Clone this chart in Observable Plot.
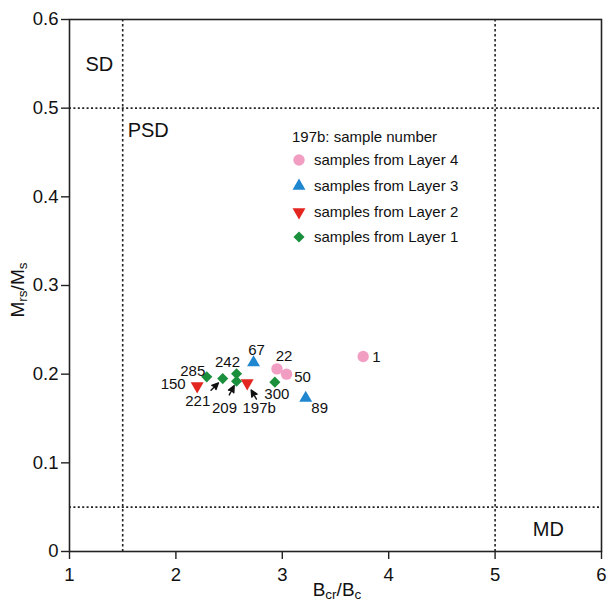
<!DOCTYPE html>
<html><head><meta charset="utf-8">
<script src="https://cdn.jsdelivr.net/npm/d3@7"></script>
<script src="https://cdn.jsdelivr.net/npm/@observablehq/plot@0.6"></script>
<style>body{margin:0;background:#fff}</style>
</head><body><div id="chart"></div>
<script>
// ---- data ----
const layers = ["Layer 4", "Layer 3", "Layer 2", "Layer 1"];
const layerColors = ["#f19ec2", "#1f86d0", "#e32620", "#1a8f3c"];
const sampleIds   = ["1", "22", "50", "67", "89", "150", "197b", "285", "221", "242", "209", "300"];
const sampleLayer = ["Layer 4","Layer 4","Layer 4","Layer 3","Layer 3","Layer 2","Layer 2","Layer 1","Layer 1","Layer 1","Layer 1","Layer 1"];
const bcrBc = [3.76, 2.95, 3.04, 2.73, 3.22, 2.20, 2.67, 2.29, 2.44, 2.57, 2.57, 2.93];
const mrsMs = [0.220, 0.206, 0.200, 0.213, 0.173, 0.1866, 0.190, 0.197, 0.195, 0.2005, 0.192, 0.191];
const xTicks = [1, 2, 3, 4, 5, 6];
const yTicks = [0, 0.1, 0.2, 0.3, 0.4, 0.5, 0.6];
const bcrBoundaries = [1.5, 5];
const mrsBoundaries = [0.5, 0.05];
const regionNames = ["SD", "PSD", "MD"];
const regionX = [1.28, 1.74, 5.5];
const regionY = [0.549, 0.475, 0.025];
const legendTitle = "197b: sample number";
const arrowedIds = ["221", "209", "197b"];

// ---- layout (styles / offsets, not data) ----
const labelOffset = { // pixel offsets of labels from their point
  "1": [9, 1, "start"], "22": [7, -13, "middle"], "50": [16, 3, "middle"], "67": [3, -12, "middle"],
  "89": [14, 10, "middle"], "150": [-24, -2, "middle"], "197b": [12, 25, "middle"], "285": [-14, -6, "middle"],
  "221": [-25, 23, "middle"], "242": [-9, -12, "middle"], "209": [-12, 27, "middle"], "300": [2, 12, "middle"]
};
const arrowStyle = { "221": [45, 6], "209": [28, 5], "197b": [-30, 8] }; // rotate, gap
const font = "'Liberation Sans', Arial, Helvetica, sans-serif";

const samples = sampleIds.map((id, i) => ({id, layer: sampleLayer[i], x: bcrBc[i], y: mrsMs[i]}));
const regions = regionNames.map((name, i) => ({name, x: regionX[i], y: regionY[i]}));

const triangleDown = {draw(ctx, size) {
  const y = -Math.sqrt(size / (Math.sqrt(3) * 3));
  ctx.moveTo(0, -y * 2); ctx.lineTo(-Math.sqrt(3) * y, y); ctx.lineTo(Math.sqrt(3) * y, y); ctx.closePath();
}};
const layerSymbol = {"Layer 4": "circle", "Layer 3": "triangle", "Layer 2": triangleDown, "Layer 1": "diamond2"};
const layerR = {"Layer 4": 5.7, "Layer 3": 4.8, "Layer 2": 4.8, "Layer 1": 5.0};

const arrowShape = gap => ({draw(ctx, l) {
  const t = -l + gap;
  ctx.moveTo(0, 0); ctx.lineTo(0, t + 3);
  ctx.moveTo(0, t); ctx.lineTo(-3, t + 6.5); ctx.lineTo(0, t + 5.5); ctx.lineTo(3, t + 6.5); ctx.closePath();
}});

const marks = [
  Plot.ruleX(bcrBoundaries, {stroke: "#222", strokeWidth: 1.6, strokeDasharray: "2.5,2.5"}),
  Plot.ruleY(mrsBoundaries, {stroke: "#222", strokeWidth: 1.6, strokeDasharray: "2,2.4"}),
  Plot.frame({stroke: "#222", strokeWidth: 1.6}),
  Plot.axisX({ticks: xTicks, tickFormat: d => String(d), tickSize: 8, tickPadding: 8, label: null, fontSize: 18.5, stroke: "#222", strokeWidth: 1.4}),
  Plot.axisY({ticks: yTicks, tickFormat: d => String(d), tickSize: 8, tickPadding: 3, label: null, fontSize: 18.5, stroke: "#222", strokeWidth: 1.4}),
  Plot.text(regions, {x: "x", y: "y", text: "name", fontSize: 20, fill: "#111"}),
  ...layers.map(L => Plot.dot(samples.filter(d => d.layer === L), {x: "x", y: "y", fill: "layer", symbol: layerSymbol[L], r: layerR[L]})),
  ...samples.map(s => Plot.text([s], {x: "x", y: "y", text: "id", fontSize: 15, fill: "#111",
      dx: labelOffset[s.id][0], dy: labelOffset[s.id][1], textAnchor: labelOffset[s.id][2]})),
  ...arrowedIds.map(id => Plot.vector(samples.filter(d => d.id === id), {x: "x", y: "y", length: 10.5 + arrowStyle[id][1],
      rotate: arrowStyle[id][0], anchor: "end", shape: arrowShape(arrowStyle[id][1]), stroke: "#111", fill: "#111", strokeWidth: 1.4}))
];

const svg = Plot.plot({
  width: 609, height: 604,
  marginLeft: 69, marginRight: 8, marginTop: 19, marginBottom: 53,
  style: {fontFamily: font, fontSize: "16px", color: "#111", background: "#fff"},
  x: {domain: [1, 6]},
  y: {domain: [0, 0.6]},
  color: {domain: layers, range: layerColors},
  marks
});

// axis titles with subscripts
const s = d3.select(svg);
const xl = s.append("text").attr("x", 337).attr("y", 596).attr("text-anchor", "middle")
  .attr("font-family", font).attr("font-size", 19).attr("fill", "#111");
xl.append("tspan").text("B");
xl.append("tspan").attr("dy", 3).attr("font-size", 13.5).text("cr");
xl.append("tspan").attr("dy", -3).text("/B");
xl.append("tspan").attr("dy", 3).attr("font-size", 13.5).text("c");
const yl = s.append("text").attr("transform", "translate(24,290) rotate(-90)").attr("text-anchor", "middle")
  .attr("font-family", font).attr("font-size", 19).attr("fill", "#111");
yl.append("tspan").text("M");
yl.append("tspan").attr("dy", 3).attr("font-size", 13.5).text("rs");
yl.append("tspan").attr("dy", -3).text("/M");
yl.append("tspan").attr("dy", 3).attr("font-size", 13.5).text("s");

// legend inside the plot area
const lg = s.append("g").attr("font-family", font).attr("font-size", 15).attr("fill", "#111").attr("text-anchor", "start");
lg.append("text").attr("x", 292).attr("y", 142).text(legendTitle);
const rowY = [160, 186, 212, 237];
layers.forEach((L, i) => {
  const sym = typeof layerSymbol[L] === "string"
    ? {circle: d3.symbolCircle, triangle: d3.symbolTriangle, diamond2: d3.symbolDiamond2}[layerSymbol[L]]
    : layerSymbol[L];
  lg.append("path").attr("transform", `translate(299,${rowY[i]})`)
    .attr("d", d3.symbol(sym, Math.PI * layerR[L] ** 2)()).attr("fill", layerColors[i]);
  lg.append("text").attr("x", 314).attr("y", rowY[i] + 5).text("samples from " + L);
});

document.getElementById("chart").append(svg);
</script>
</body></html>
